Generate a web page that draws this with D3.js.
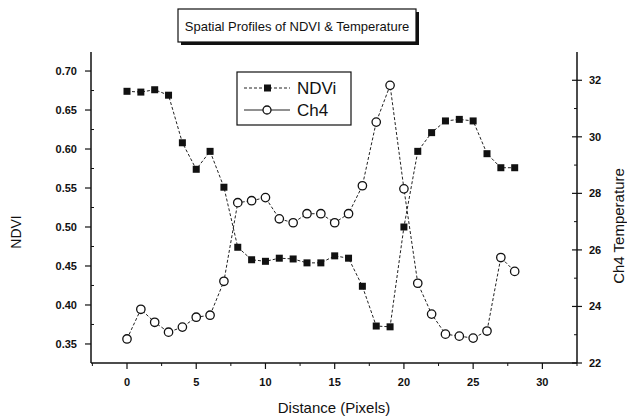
<!DOCTYPE html>
<html lang="en">
<head>
<meta charset="UTF-8">
<title>Spatial Profiles of NDVI &amp; Temperature</title>
<script src="https://d3js.org/d3.v7.min.js"></script>
<style>
    body { margin: 0; background: #fff; }
    svg text { font-family: "Liberation Sans", Arial, sans-serif; fill: #111; }
    .tick-lbl { font-size: 11px; font-weight: bold; }
    .series { fill: none; stroke: #222; stroke-width: 1; stroke-dasharray: 3,2; }
</style>
</head>
<body>
<svg width="627" height="419"></svg>
<script>
// distance along the transect (pixels)
const distance = d3.range(0, 29);
// NDVI values (squares, left axis)
const ndvi = [0.674, 0.673, 0.676, 0.669, 0.608, 0.574, 0.597, 0.551, 0.474, 0.458,
              0.456, 0.460, 0.459, 0.454, 0.454, 0.463, 0.460, 0.424, 0.373, 0.372,
              0.500, 0.597, 0.621, 0.636, 0.638, 0.636, 0.594, 0.576, 0.576];
// Ch4 temperature (circles, right axis)
const ch4 = [22.85, 23.90, 23.44, 23.09, 23.27, 23.62, 23.69, 24.89, 27.67, 27.74,
             27.85, 27.10, 26.96, 27.28, 27.28, 26.96, 27.28, 28.27, 30.52, 31.82,
             28.16, 24.82, 23.73, 23.02, 22.95, 22.88, 23.13, 25.73, 25.24];

const xTicks = [0, 5, 10, 15, 20, 25, 30];
const ndviTicks = [0.35, 0.40, 0.45, 0.50, 0.55, 0.60, 0.65, 0.70];
const tempTicks = [22, 24, 26, 28, 30, 32];

const svg = d3.select("svg");
const plotL = 91, plotR = 577, plotT = 52, plotB = 363;

const x = d3.scaleLinear().domain([-2.6, 32.5]).range([plotL, plotR]);
const yL = d3.scaleLinear().domain([0.3256, 0.7244]).range([plotB, plotT]);
const yR = d3.scaleLinear().domain([22, 33]).range([plotB, plotT]);

// title box with drop shadow
const title = svg.append("g");
title.append("rect").attr("x", 181).attr("y", 12).attr("width", 238).attr("height", 33).attr("fill", "#111");
title.append("rect").attr("x", 178).attr("y", 9).attr("width", 238).attr("height", 33)
    .attr("fill", "#fff").attr("stroke", "#111").attr("stroke-width", 1.2);
title.append("text").attr("x", 297).attr("y", 31).attr("text-anchor", "middle")
    .style("font-size", "13px").text("Spatial Profiles of NDVI & Temperature");

// axis lines
const axes = svg.append("g").attr("stroke", "#111").attr("stroke-width", 1.5);
axes.append("line").attr("x1", plotL).attr("x2", plotL).attr("y1", plotT).attr("y2", plotB);
axes.append("line").attr("x1", plotR).attr("x2", plotR).attr("y1", plotT).attr("y2", plotB);
axes.append("line").attr("x1", plotL).attr("x2", plotR).attr("y1", plotB).attr("y2", plotB);

// bottom axis
const xAxis = svg.append("g");
xAxis.selectAll(".minor").data(d3.range(-2.5, 32.6, 2.5).filter(v => v % 5 !== 0))
    .join("line").attr("x1", d => x(d)).attr("x2", d => x(d))
    .attr("y1", plotB).attr("y2", plotB + 3).attr("stroke", "#111");
xAxis.selectAll(".major").data(xTicks).join("line")
    .attr("x1", d => x(d)).attr("x2", d => x(d))
    .attr("y1", plotB).attr("y2", plotB + 6).attr("stroke", "#111").attr("stroke-width", 1.2);
xAxis.selectAll("text").data(xTicks).join("text").attr("class", "tick-lbl")
    .attr("x", d => x(d)).attr("y", plotB + 23).attr("text-anchor", "middle").text(d => d);

// left axis
const lAxis = svg.append("g");
lAxis.selectAll(".minor").data([0.375, 0.425, 0.475, 0.525, 0.575, 0.625, 0.675])
    .join("line").attr("x1", plotL).attr("x2", plotL + 3)
    .attr("y1", d => yL(d)).attr("y2", d => yL(d)).attr("stroke", "#111");
lAxis.selectAll(".major").data(ndviTicks).join("line")
    .attr("x1", plotL - 6).attr("x2", plotL)
    .attr("y1", d => yL(d)).attr("y2", d => yL(d)).attr("stroke", "#111").attr("stroke-width", 1.2);
lAxis.selectAll("text").data(ndviTicks).join("text").attr("class", "tick-lbl")
    .attr("x", plotL - 14).attr("y", d => yL(d) + 4).attr("text-anchor", "end")
    .text(d3.format(".2f"));

// right axis
const rAxis = svg.append("g");
rAxis.selectAll(".minor").data(d3.range(23, 33, 2))
    .join("line").attr("x1", plotR - 3).attr("x2", plotR)
    .attr("y1", d => yR(d)).attr("y2", d => yR(d)).attr("stroke", "#111");
rAxis.selectAll(".major").data(tempTicks).join("line")
    .attr("x1", plotR - 5).attr("x2", plotR + 5)
    .attr("y1", d => yR(d)).attr("y2", d => yR(d)).attr("stroke", "#111").attr("stroke-width", 1.2);
rAxis.selectAll("text").data(tempTicks).join("text").attr("class", "tick-lbl")
    .attr("x", plotR + 12).attr("y", d => yR(d) + 4).text(d => d);

// axis titles
svg.append("text").attr("transform", `translate(21,232) rotate(-90)`)
    .attr("text-anchor", "middle").style("font-size", "14px").text("NDVI");
svg.append("text").attr("transform", `translate(624,226) rotate(-90)`)
    .attr("text-anchor", "middle").style("font-size", "15px").text("Ch4 Temperature");
svg.append("text").attr("x", 334).attr("y", 413)
    .attr("text-anchor", "middle").style("font-size", "15px").text("Distance (Pixels)");

// series lines
const ndviLine = d3.line().x((d, i) => x(distance[i])).y(d => yL(d));
const ch4Line = d3.line().x((d, i) => x(distance[i])).y(d => yR(d));
svg.append("path").datum(ndvi).attr("class", "series").attr("d", ndviLine);
svg.append("path").datum(ch4).attr("class", "series").attr("d", ch4Line);

// markers
svg.append("g").selectAll("rect").data(ndvi).join("rect")
    .attr("x", (d, i) => x(distance[i]) - 3.5).attr("y", d => yL(d) - 3.5)
    .attr("width", 7).attr("height", 7).attr("fill", "#111");
svg.append("g").selectAll("circle").data(ch4).join("circle")
    .attr("cx", (d, i) => x(distance[i])).attr("cy", d => yR(d)).attr("r", 4.2)
    .attr("fill", "#fff").attr("stroke", "#111").attr("stroke-width", 1.3);

// legend
const legend = svg.append("g");
legend.append("rect").attr("x", 237).attr("y", 72).attr("width", 114).attr("height", 53)
    .attr("fill", "#fff").attr("stroke", "#111").attr("stroke-width", 1.2);
const entries = [{ label: "NDVi", type: "square" }, { label: "Ch4", type: "circle" }];
entries.forEach((e, i) => {
    const ly = 88 + i * 22;
    legend.append("line").attr("x1", 244).attr("x2", 290).attr("y1", ly).attr("y2", ly)
        .attr("stroke", "#222").attr("stroke-dasharray", i === 0 ? "3,2" : null);
    if (e.type === "square") {
        legend.append("rect").attr("x", 264).attr("y", ly - 3.5).attr("width", 7).attr("height", 7).attr("fill", "#111");
    } else {
        legend.append("circle").attr("cx", 267).attr("cy", ly).attr("r", 4)
            .attr("fill", "#fff").attr("stroke", "#111").attr("stroke-width", 1.3);
    }
    legend.append("text").attr("x", 297).attr("y", ly + 6).style("font-size", "17px").text(e.label);
});
</script>
</body>
</html>
